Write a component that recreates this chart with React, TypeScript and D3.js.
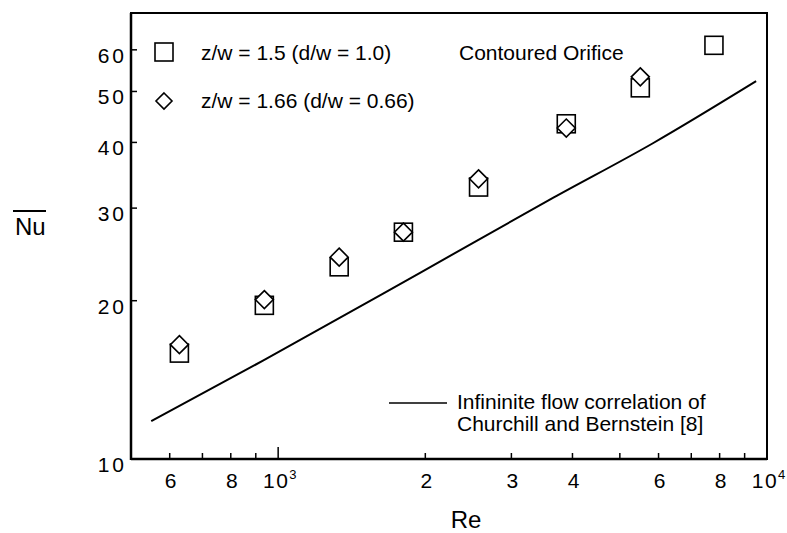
import React from "react";
import * as d3 from "d3";

// Data
const reSquare = [628, 937, 1333, 1804, 2570, 3885, 5506, 7789];
const nuSquare = [15.9, 19.6, 23.2, 27.0, 32.9, 43.4, 50.8, 61.2];
const reDiamond = [628, 937, 1333, 1804, 2570, 3885, 5506];
const nuDiamond = [16.5, 20.1, 24.2, 27.0, 34.1, 42.6, 53.3];
const reCorrelation = [550, 933, 1951, 3656, 5855, 9500];
const nuCorrelation = [11.8, 15.4, 22.6, 31.4, 39.9, 52.3];

const xMinorTicks = [600, 700, 800, 900, 2000, 3000, 4000, 5000, 6000, 7000, 8000, 9000];
const xMajorTicks = [1000];
const xTickLabels = [
  { v: 600, t: "6" },
  { v: 800, t: "8" },
  { v: 2000, t: "2" },
  { v: 3000, t: "3" },
  { v: 4000, t: "4" },
  { v: 6000, t: "6" },
  { v: 8000, t: "8" },
];
const xPowerLabels = [
  { v: 1000, exp: "3" },
  { v: 10000, exp: "4" },
];
const yTicks = [20, 30, 40, 50, 60];
const yTickLabels = [10, 20, 30, 40, 50, 60];

const legendSeries = ["z/w = 1.5 (d/w = 1.0)", "z/w = 1.66 (d/w = 0.66)"];
const annotation = "Contoured Orifice";
const lineLegend = ["Infininite flow correlation of", "Churchill and Bernstein [8]"];

const W = 787;
const H = 533;
const left = 131, right = 767, top = 13, bottom = 459;
const FONT = "'Liberation Sans', Arial, Helvetica, sans-serif";

export default function App() {
  const x = d3.scaleLog().domain([500, 10000]).range([left, right]);
  const y = d3.scaleLog().domain([10, 70.5]).range([bottom, top]);

  const pts = reCorrelation.map((r, i) => [x(r), y(nuCorrelation[i])] as [number, number]);
  const linePath = d3.line().curve(d3.curveMonotoneX)(pts) || "";

  const sq = 18;
  const dm = 9;
  const diamond = (cx: number, cy: number, h: number) =>
    `M${cx},${cy - h}L${cx + h},${cy}L${cx},${cy + h}L${cx - h},${cy}Z`;

  return (
    <svg
      width={W}
      height={H}
      style={{ position: "absolute", left: 0, top: 0, background: "#fff" }}
      fontFamily={FONT}
    >
      <rect x={0} y={0} width={W} height={H} fill="#fff" />
      {/* frame */}
      <rect x={left} y={top} width={right - left} height={bottom - top} fill="none" stroke="#000" strokeWidth={2} />
      <line x1={left} y1={top} x2={left} y2={bottom + 1} stroke="#000" strokeWidth={2.5} />
      <line x1={left} y1={bottom} x2={right} y2={bottom} stroke="#000" strokeWidth={2.5} />

      {/* y ticks */}
      {yTicks.map((v) => (
        <line key={"yt" + v} x1={left} x2={left + 6} y1={y(v)} y2={y(v)} stroke="#000" strokeWidth={1.5} />
      ))}
      {yTickLabels.map((v) => (
        <text key={"yl" + v} x={127} y={y(v) + 13} textAnchor="end" fontSize={21} letterSpacing={3}>
          {v}
        </text>
      ))}

      {/* x ticks */}
      {xMinorTicks.map((v) => (
        <line key={"xm" + v} x1={x(v)} x2={x(v)} y1={bottom} y2={bottom - 6} stroke="#000" strokeWidth={1.5} />
      ))}
      {xMajorTicks.map((v) => (
        <line key={"xM" + v} x1={x(v)} x2={x(v)} y1={bottom} y2={bottom - 12} stroke="#000" strokeWidth={1.5} />
      ))}
      {xTickLabels.map((d, i) => (
        <text key={"xl" + i} x={x(d.v) + 1} y={488} textAnchor="middle" fontSize={21}>
          {d.t}
        </text>
      ))}
      {xPowerLabels.map((d) => (
        <g key={"xp" + d.v}>
          <text x={x(d.v) - 2} y={488} textAnchor="middle" fontSize={21} letterSpacing={1.5}>
            10
          </text>
          <text x={x(d.v) + 11} y={479} fontSize={13}>
            {d.exp}
          </text>
        </g>
      ))}

      {/* axis titles */}
      <text x={466} y={528} textAnchor="middle" fontSize={24}>Re</text>
      <text x={15} y={235} fontSize={24}>Nu</text>
      <line x1={13} x2={46} y1={211} y2={211} stroke="#000" strokeWidth={1.8} />

      {/* correlation line */}
      <path d={linePath} fill="none" stroke="#000" strokeWidth={2} />

      {/* data markers */}
      {reSquare.map((r, i) => (
        <rect
          key={"s" + i}
          x={x(r) - sq / 2}
          y={y(nuSquare[i]) - sq / 2}
          width={sq}
          height={sq}
          fill="none"
          stroke="#000"
          strokeWidth={1.6}
        />
      ))}
      {reDiamond.map((r, i) => (
        <path
          key={"d" + i}
          d={diamond(x(r), y(nuDiamond[i]), dm)}
          fill="#fff"
          stroke="#000"
          strokeWidth={1.6}
        />
      ))}

      {/* legend */}
      <rect x={155} y={43} width={18} height={18} fill="none" stroke="#000" strokeWidth={1.6} />
      <path d={diamond(164, 101, 8)} fill="none" stroke="#000" strokeWidth={1.6} />
      <text x={201} y={60} fontSize={21}>{legendSeries[0]}</text>
      <text x={201} y={108} fontSize={21}>{legendSeries[1]}</text>
      <text x={459} y={60} fontSize={21}>{annotation}</text>

      <line x1={389} x2={447} y1={403} y2={403} stroke="#000" strokeWidth={1.5} />
      <text x={457} y={409} fontSize={21}>{lineLegend[0]}</text>
      <text x={457} y={431} fontSize={21}>{lineLegend[1]}</text>
    </svg>
  );
}
